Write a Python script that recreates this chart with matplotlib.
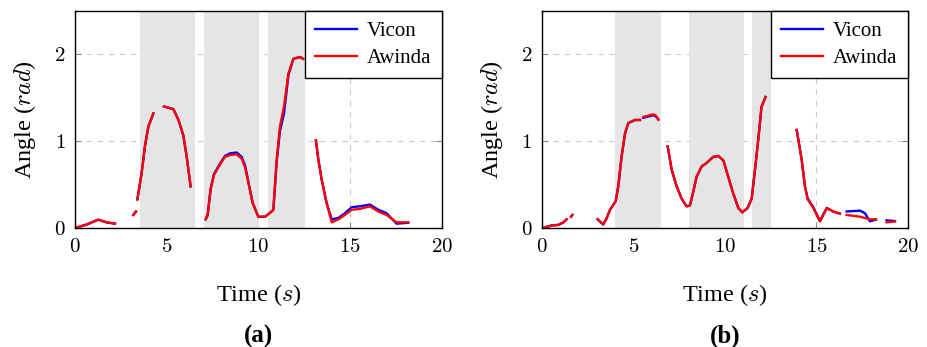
import numpy as np
import matplotlib.pyplot as plt

plt.rcParams['font.family'] = ['Liberation Serif', 'DejaVu Serif']
plt.rcParams['mathtext.fontset'] = 'cm'

nan = np.nan

# panel (a): time (s), Vicon and Awinda angle (rad); nan = gap in the recording
t_a = [0.0, 0.64, 1.27, 1.72, 2.18, nan,
       3.18, 3.32, nan,
       3.40, 3.63, 3.81, 4.0, 4.27, nan,
       4.85, 5.36, 5.63, 5.90, 6.09, 6.30, nan,
       7.12, 7.23, 7.39, 7.57, 7.90, 8.17, 8.45, 8.81, 9.08, 9.27, 9.45, 9.68,
       9.99, 10.36, 10.66, 10.81, 10.99, 11.17, 11.39, 11.63, 11.90, 12.26, 12.44, nan,
       13.13, 13.26, 13.44, 13.71, 13.99, 14.35, 14.71, 15.08, 15.53, 16.07,
       16.53, 16.98, 17.52, 18.16]
vicon_a = [0.0, 0.04, 0.096, 0.065, 0.05, nan,
           0.15, 0.19, nan,
           0.33, 0.63, 0.94, 1.17, 1.32, nan,
           1.40, 1.37, 1.25, 1.07, 0.82, 0.48, nan,
           0.10, 0.15, 0.45, 0.62, 0.74, 0.83, 0.86, 0.87, 0.82, 0.72, 0.53, 0.29,
           0.13, 0.13, 0.18, 0.21, 0.76, 1.12, 1.32, 1.76, 1.95, 1.97, 1.95, nan,
           1.01, 0.79, 0.56, 0.29, 0.10, 0.115, 0.17, 0.24, 0.25, 0.27,
           0.21, 0.17, 0.05, 0.06]
awinda_a = [0.0, 0.04, 0.096, 0.065, 0.05, nan,
            0.15, 0.19, nan,
            0.33, 0.63, 0.94, 1.17, 1.32, nan,
            1.40, 1.37, 1.25, 1.07, 0.82, 0.48, nan,
            0.10, 0.15, 0.44, 0.61, 0.73, 0.82, 0.84, 0.85, 0.80, 0.70, 0.52, 0.29,
            0.13, 0.13, 0.18, 0.21, 0.79, 1.17, 1.40, 1.78, 1.95, 1.97, 1.95, nan,
            1.01, 0.79, 0.56, 0.29, 0.065, 0.10, 0.15, 0.21, 0.22, 0.25,
            0.19, 0.15, 0.065, 0.065]
shade_a = [(3.54, 6.54), (7.03, 10.03), (10.52, 12.53)]

# panel (b)
t_b = [0.07, 0.53, 0.89, 1.17, 1.35, nan,
       1.59, 1.66, nan,
       3.04, 3.35, 3.53, 3.72, 4.03, 4.17, 4.35, 4.54, 4.72, 5.08, 5.36, nan,
       5.54, 6.08, 6.21, 6.36, nan,
       6.87, 7.09, 7.36, 7.63, 7.90, 8.09, 8.27, 8.45, 8.73, 9.0, 9.36, 9.64,
       9.91, 10.18, 10.45, 10.73, 10.95, 11.24, 11.46, 11.64, 11.82, 12.0, 12.22, nan,
       13.92, 14.19, 14.37, 14.52, 14.83, 15.19, 15.56, 15.92, 16.28, nan,
       16.65, 17.38, 17.65, 17.92, 18.25, nan,
       18.83, 19.29]
vicon_b = [0.0, 0.03, 0.035, 0.065, 0.10, nan,
           0.13, 0.15, nan,
           0.10, 0.04, 0.11, 0.21, 0.31, 0.48, 0.82, 1.09, 1.21, 1.245, 1.245, nan,
           1.27, 1.30, 1.29, 1.25, nan,
           0.94, 0.67, 0.48, 0.34, 0.25, 0.26, 0.42, 0.59, 0.71, 0.75, 0.82, 0.83,
           0.78, 0.59, 0.40, 0.23, 0.18, 0.23, 0.34, 0.67, 1.02, 1.40, 1.51, nan,
           1.13, 0.79, 0.48, 0.34, 0.24, 0.077, 0.23, 0.19, 0.165, nan,
           0.19, 0.20, 0.17, 0.077, 0.096, nan,
           0.088, 0.08]
awinda_b = [0.0, 0.03, 0.035, 0.065, 0.10, nan,
            0.13, 0.15, nan,
            0.10, 0.04, 0.11, 0.21, 0.31, 0.48, 0.82, 1.09, 1.21, 1.245, 1.245, nan,
            1.28, 1.31, 1.30, 1.25, nan,
            0.94, 0.67, 0.48, 0.34, 0.25, 0.26, 0.42, 0.59, 0.71, 0.75, 0.82, 0.83,
            0.78, 0.59, 0.40, 0.23, 0.18, 0.23, 0.34, 0.67, 1.02, 1.40, 1.51, nan,
            1.13, 0.79, 0.48, 0.33, 0.23, 0.077, 0.23, 0.19, 0.165, nan,
            0.15, 0.13, 0.115, 0.10, 0.10, nan,
            0.065, 0.075]
shade_b = [(3.99, 6.50), (8.03, 11.04), (11.48, 12.51)]

x_ticks = [0, 5, 10, 15, 20]
y_ticks = [0, 1, 2]


fig = plt.figure(figsize=(9.28, 3.47), dpi=100)
ax_a = fig.add_axes([0.0808, 0.343, 0.3955, 0.625])
ax_b = fig.add_axes([0.584, 0.343, 0.3944, 0.625])

panels = [(ax_a, t_a, vicon_a, awinda_a, shade_a, '(a)'),
          (ax_b, t_b, vicon_b, awinda_b, shade_b, '(b)')]

for ax, t, vic, awi, shades, tag in panels:
    ax.set_axisbelow(True)
    ax.grid(True, linestyle=(0, (5, 5)), color='#cccccc', linewidth=0.8)
    for x0, x1 in shades:
        ax.axvspan(x0, x1, color='#e5e5e5', lw=0, zorder=1)
    ax.plot(t, vic, color='#0000ff', lw=1.7, label='Vicon', zorder=3)
    ax.plot(t, awi, color='#ff0000', lw=1.7, label='Awinda', zorder=4)
    ax.set_xlim(0, 20)
    ax.set_ylim(0, 2.5)
    ax.set_xticks(x_ticks)
    ax.set_xticklabels([f'${v}$' for v in x_ticks])
    ax.set_yticks(y_ticks)
    ax.set_yticklabels([f'${v}$' for v in y_ticks])
    ax.tick_params(direction='in', top=True, right=True, length=4,
                   color='#888888', labelsize=15, pad=7)
    for s in ax.spines.values():
        s.set_linewidth(1.0)
        s.set_zorder(5)
    ax.set_xlabel(r'Time ($s$)', fontsize=17.5, va='center')
    ax.xaxis.set_label_coords(0.5, -0.31)
    ax.set_ylabel(r'Angle ($rad$)', fontsize=17.5, va='center')
    ax.yaxis.set_label_coords(-0.136, 0.5)
    leg = ax.legend(loc='upper right', fontsize=15, fancybox=False,
                    framealpha=1, edgecolor='black', borderaxespad=0,
                    handlelength=2.0, handletextpad=0.5, borderpad=0.5,
                    labelspacing=0.35)
    leg.get_frame().set_linewidth(1.0)
    ax.text(0.5, -0.498, tag, transform=ax.transAxes, ha='center', va='center',
            fontsize=18, fontweight='bold')

fig.savefig('out.png', dpi=100)
